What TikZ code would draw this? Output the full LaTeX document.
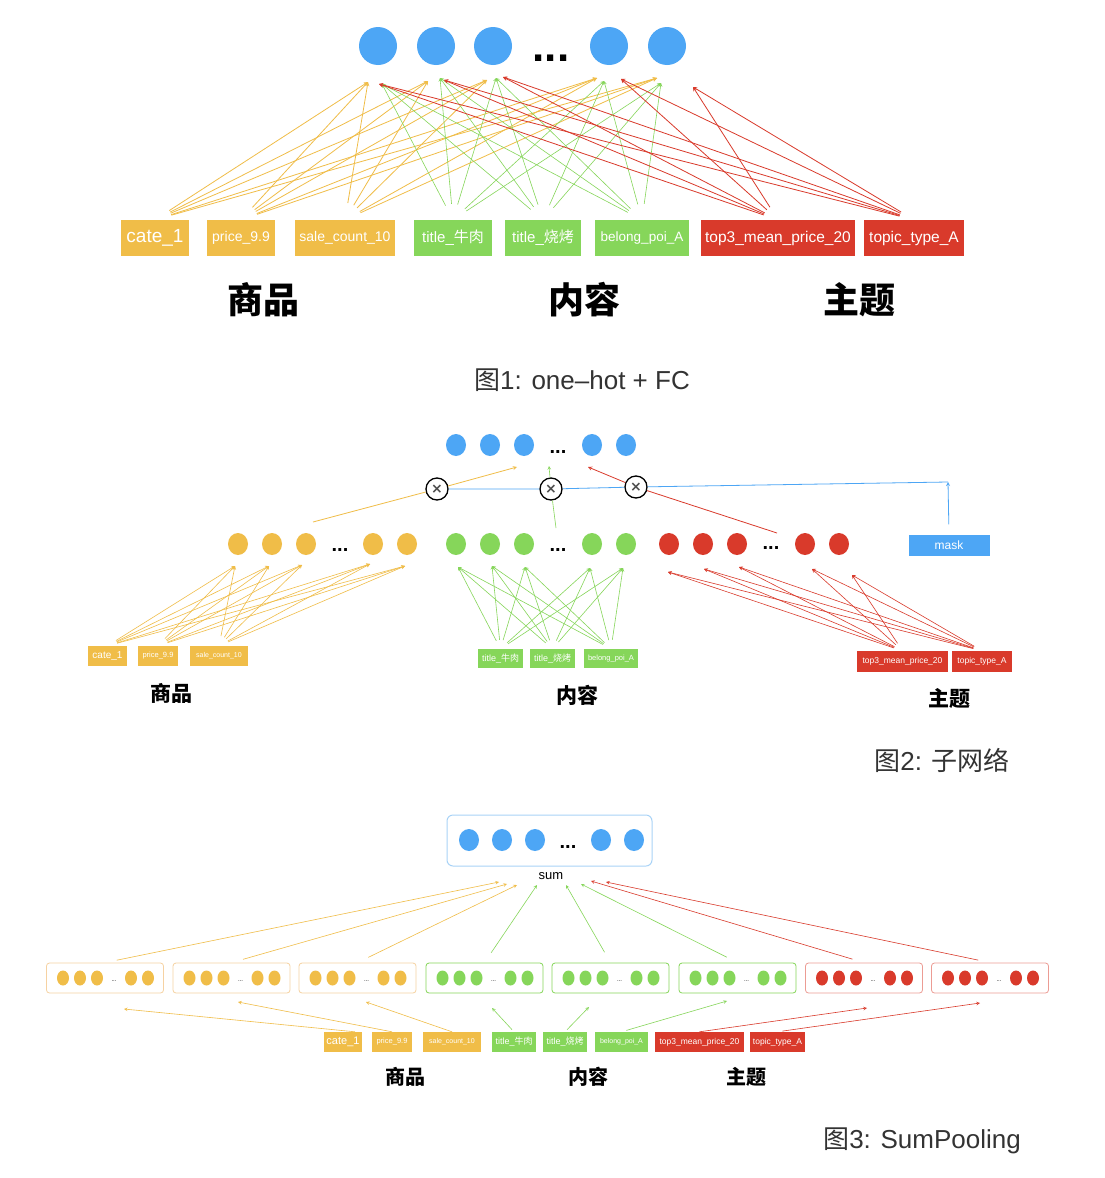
\documentclass[tikz,border=0pt]{standalone}
\usepackage{fontspec}
\setmainfont{Liberation Sans}
\newfontfamily\cjk{Noto Sans CJK SC}
\newfontfamily\sym{DejaVu Sans}
\usetikzlibrary{shapes.geometric}
\definecolor{fblue}{HTML}{4DA6F5}
\definecolor{lblue}{HTML}{A9D3F7}
\definecolor{forange}{HTML}{F0BD48}
\definecolor{lorange}{HTML}{F6D2A2}
\definecolor{fgreen}{HTML}{86D65A}
\definecolor{fred}{HTML}{D93A2B}
\definecolor{lred}{HTML}{EC9C94}

\begin{document}
\begin{tikzpicture}[x=1pt, y=-1pt,
    dot/.style={ellipse, fill=#1, inner sep=0pt},
    bigdot/.style={dot=#1, minimum width=38pt, minimum height=38pt},
    middot/.style={dot=#1, minimum width=20pt, minimum height=22pt},
    smalldot/.style={dot=#1, minimum width=12pt, minimum height=15pt},
    feat/.style={rectangle, fill=#1, text=white, inner sep=0pt, font=\fontsize{15}{15}\selectfont},
    grp/.style={font={\cjk\bfseries\fontsize{#1}{#1}\selectfont}},
    caption/.style={font=\fontsize{26}{26}\selectfont, text=black!80},
    more/.style={font={\bfseries\fontsize{#1}{#1}\selectfont}},
    edge/.style={->, >=stealth, #1, line width=0.8pt},
    mul/.style={circle, draw=black, line width=1.3pt, fill=white, minimum size=22pt, inner sep=0pt, text=black!70, font={\sym\bfseries\fontsize{14}{14}\selectfont}},
    slot/.style={rectangle, draw=#1, line width=0.8pt, rounded corners=3pt, minimum width=117pt, minimum height=30pt, inner sep=0pt}
]
\fill[white] (0,0) rectangle (1105,1178);
\useasboundingbox (0,0) rectangle (1105,1178);

% ---------- Fig 1: one-hot + FC ----------
\node[bigdot=fblue] (a1) at (378,46) {};
\node[bigdot=fblue] (a2) at (436,46) {};
\node[bigdot=fblue] (a3) at (493,46) {};
\node[more=44] (adots) at (551,58) {...};
\node[bigdot=fblue] (a4) at (609,46) {};
\node[bigdot=fblue] (a5) at (667,46) {};

\node[feat=forange, minimum width=68pt, minimum height=36pt, font=\fontsize{19}{19}\selectfont] (cateA) at (155,238) {cate\_1};
\node[feat=forange, minimum width=68pt, minimum height=36pt, font=\fontsize{14}{14}\selectfont] (priceA) at (241,238) {price\_9.9};
\node[feat=forange, minimum width=100pt, minimum height=36pt, font=\fontsize{14}{14}\selectfont] (saleA) at (345,238) {sale\_count\_10};
\node[feat=fgreen, minimum width=78pt, minimum height=36pt] (niuA) at (453,238) {title\_{\cjk 牛肉}};
\node[feat=fgreen, minimum width=76pt, minimum height=36pt] (shaoA) at (543,238) {title\_{\cjk 烧烤}};
\node[feat=fgreen, minimum width=94pt, minimum height=36pt, font=\fontsize{13.5}{13.5}\selectfont] (poiA) at (642,238) {belong\_poi\_A};
\node[feat=fred, minimum width=154pt, minimum height=36pt, font=\fontsize{15.5}{15.5}\selectfont] (top3A) at (778,238) {top3\_mean\_price\_20};
\node[feat=fred, minimum width=100pt, minimum height=36pt, font=\fontsize{15.5}{15.5}\selectfont] (topicA) at (914,238) {topic\_type\_A};

\node[grp=36] (goodsA) at (263,300) {商品};
\node[grp=36] (contA) at (584,300) {内容};
\node[grp=36] (themeA) at (859,300) {主题};
\node[caption] (capA) at (582,380) {{\cjk 图}1: one–hot + FC};

% arrow ends below the top layer
\coordinate (oa1) at (368,82); \coordinate (oa2) at (428,81); \coordinate (oa3) at (487,80);
\coordinate (oa4) at (597,78); \coordinate (oa5) at (657,78);
\coordinate (ga1) at (382,84); \coordinate (ga2) at (440,78); \coordinate (ga3) at (496,78);
\coordinate (ga4) at (604,81); \coordinate (ga5) at (661,83);
\coordinate (ra1) at (379,84); \coordinate (ra2) at (444,80); \coordinate (ra3) at (503,77);
\coordinate (ra4) at (621,79); \coordinate (ra5) at (693,87);

\foreach \s in {cateA,priceA,saleA}
  \foreach \t in {1,...,5}
    \draw[edge=forange, shorten <=17pt] (\s.north) -- (oa\t);
\foreach \s in {niuA,shaoA,poiA}
  \foreach \t in {1,...,5}
    \draw[edge=fgreen, line width=0.6pt, shorten <=16pt] (\s.north) -- (ga\t);
\foreach \s in {top3A,topicA}
  \foreach \t in {1,...,5}
    \draw[edge=fred, shorten <=15pt] (\s.north) -- (ra\t);

% ---------- Fig 2: sub-networks ----------
\node[middot=fblue] (b1) at (456,445) {};
\node[middot=fblue] (b2) at (490,445) {};
\node[middot=fblue] (b3) at (524,445) {};
\node[more=20] (bdots) at (558,452) {...};
\node[middot=fblue] (b4) at (592,445) {};
\node[middot=fblue] (b5) at (626,445) {};

\node[mul] (x1) at (437,489) {×};
\node[mul] (x2) at (551,489) {×};
\node[mul] (x3) at (636,487) {×};

\node[middot=forange] (ob1n) at (238,544) {};
\node[middot=forange] (ob2n) at (272,544) {};
\node[middot=forange] (ob3n) at (306,544) {};
\node[more=20] (odots) at (340,550) {...};
\node[middot=forange] (ob4n) at (373,544) {};
\node[middot=forange] (ob5n) at (407,544) {};

\node[middot=fgreen] (gb1n) at (456,544) {};
\node[middot=fgreen] (gb2n) at (490,544) {};
\node[middot=fgreen] (gb3n) at (524,544) {};
\node[more=20] (gdots) at (558,550) {...};
\node[middot=fgreen] (gb4n) at (592,544) {};
\node[middot=fgreen] (gb5n) at (626,544) {};

\node[middot=fred] (rb1n) at (669,544) {};
\node[middot=fred] (rb2n) at (703,544) {};
\node[middot=fred] (rb3n) at (737,544) {};
\node[more=20] (rdots) at (771,548) {...};
\node[middot=fred] (rb4n) at (805,544) {};
\node[middot=fred] (rb5n) at (839,544) {};

\node[feat=fblue, minimum width=81pt, minimum height=21pt, font=\fontsize{12}{12}\selectfont] (mask) at (949,545) {mask};

\node[feat=forange, minimum width=39pt, minimum height=20pt, font=\fontsize{10}{10}\selectfont] (cateB) at (107.5,656) {cate\_1};
\node[feat=forange, minimum width=40pt, minimum height=20pt, font=\fontsize{7.5}{7.5}\selectfont] (priceB) at (158,656) {price\_9.9};
\node[feat=forange, minimum width=58pt, minimum height=20pt, font=\fontsize{7}{7}\selectfont] (saleB) at (219,656) {sale\_count\_10};
\node[feat=fgreen, minimum width=45pt, minimum height=19pt, font=\fontsize{9}{9}\selectfont] (niuB) at (500.5,658.5) {title\_{\cjk 牛肉}};
\node[feat=fgreen, minimum width=45pt, minimum height=19pt, font=\fontsize{9}{9}\selectfont] (shaoB) at (552.5,658.5) {title\_{\cjk 烧烤}};
\node[feat=fgreen, minimum width=54pt, minimum height=19pt, font=\fontsize{7.5}{7.5}\selectfont] (poiB) at (611,658.5) {belong\_poi\_A};
\node[feat=fred, minimum width=91pt, minimum height=21pt, font=\fontsize{8.5}{8.5}\selectfont] (top3B) at (902.5,661.5) {top3\_mean\_price\_20};
\node[feat=fred, minimum width=60pt, minimum height=21pt, font=\fontsize{8.5}{8.5}\selectfont] (topicB) at (982,661.5) {topic\_type\_A};

\node[grp=21] (goodsB) at (171,693) {商品};
\node[grp=21] (contB) at (577,695) {内容};
\node[grp=21] (themeB) at (949,698) {主题};
\node[caption] (capB) at (942,760) {{\cjk 图}2: {\cjk 子网络}};

% gates
\coordinate (mtop) at (948,482);
\draw[edge=fblue, shorten <=10pt] (mask.north) -- (mtop);
\draw[fblue, line width=0.8pt] (mtop) -- (x3) -- (x2) -- (x1);
\coordinate (oin) at (313,522); \coordinate (oout) at (517,467);
\coordinate (gin) at (556,528); \coordinate (gout) at (549,466);
\coordinate (rin) at (777,533); \coordinate (rout) at (588,467);
\draw[edge=forange] (oin) -- (x1) -- (oout);
\draw[edge=fgreen, line width=0.6pt] (gin) -- (x2) -- (gout);
\draw[edge=fred] (rin) -- (x3) -- (rout);

\coordinate (ob1) at (235,566); \coordinate (ob2) at (269,566); \coordinate (ob3) at (302,565);
\coordinate (ob4) at (370,564); \coordinate (ob5) at (405,566);
\coordinate (gb1) at (458,567); \coordinate (gb2) at (492,566); \coordinate (gb3) at (525,567);
\coordinate (gb4) at (590,568); \coordinate (gb5) at (623,568);
\coordinate (rb1) at (668,572); \coordinate (rb2) at (704,569); \coordinate (rb3) at (739,567);
\coordinate (rb4) at (812,569); \coordinate (rb5) at (852,575);

\foreach \s in {cateB,priceB,saleB}
  \foreach \t in {1,...,5}
    \draw[edge=forange, line width=0.6pt, shorten <=10pt] (\s.north) -- (ob\t);
\foreach \s in {niuB,shaoB,poiB}
  \foreach \t in {1,...,5}
    \draw[edge=fgreen, line width=0.6pt, shorten <=9pt] (\s.north) -- (gb\t);
\foreach \s in {top3B,topicB}
  \foreach \t in {1,...,5}
    \draw[edge=fred, line width=0.6pt, shorten <=9pt] (\s.north) -- (rb\t);

% ---------- Fig 3: SumPooling ----------
\node[rectangle, draw=lblue, line width=1pt, rounded corners=6pt, minimum width=205pt, minimum height=51pt] (pool) at (549.5,840.5) {};
\node[middot=fblue] (c1) at (469,840) {};
\node[middot=fblue] (c2) at (502,840) {};
\node[middot=fblue] (c3) at (535,840) {};
\node[more=20] (cdots) at (568,847) {...};
\node[middot=fblue] (c4) at (601,840) {};
\node[middot=fblue] (c5) at (634,840) {};
\node[font=\fontsize{13}{13}\selectfont] (sum) at (551,876) {sum};

\node[slot=lorange] (s1) at (105,978) {};
\node[slot=lorange] (s2) at (231.5,978) {};
\node[slot=lorange] (s3) at (357.5,978) {};
\node[slot=fgreen] (s4) at (484.5,978) {};
\node[slot=fgreen] (s5) at (610.5,978) {};
\node[slot=fgreen] (s6) at (737.5,978) {};
\node[slot=lred] (s7) at (864,978) {};
\node[slot=lred] (s8) at (990,978) {};
\foreach \b/\col in {s1/forange,s2/forange,s3/forange,s4/fgreen,s5/fgreen,s6/fgreen,s7/fred,s8/fred} {
  \foreach \dx in {-42,-25,-8,26,43}
    \node[smalldot=\col] at ([xshift=\dx pt]\b.center) {};
  \node[font=\fontsize{6}{6}\selectfont, inner sep=0pt] at ([xshift=9pt, yshift=-3pt]\b.center) {...};
}

\node[feat=forange, minimum width=38pt, minimum height=20pt, font=\fontsize{11}{11}\selectfont] (cateC) at (343,1042) {cate\_1};
\node[feat=forange, minimum width=40pt, minimum height=20pt, font=\fontsize{7.5}{7.5}\selectfont] (priceC) at (392,1042) {price\_9.9};
\node[feat=forange, minimum width=58pt, minimum height=20pt, font=\fontsize{7}{7}\selectfont] (saleC) at (452,1042) {sale\_count\_10};
\node[feat=fgreen, minimum width=44pt, minimum height=20pt, font=\fontsize{9}{9}\selectfont] (niuC) at (514,1042) {title\_{\cjk 牛肉}};
\node[feat=fgreen, minimum width=44pt, minimum height=20pt, font=\fontsize{9}{9}\selectfont] (shaoC) at (565,1042) {title\_{\cjk 烧烤}};
\node[feat=fgreen, minimum width=53pt, minimum height=20pt, font=\fontsize{7}{7}\selectfont] (poiC) at (621.5,1042) {belong\_poi\_A};
\node[feat=fred, minimum width=89pt, minimum height=20pt, font=\fontsize{8.5}{8.5}\selectfont] (top3C) at (699.5,1042) {top3\_mean\_price\_20};
\node[feat=fred, minimum width=55pt, minimum height=20pt, font=\fontsize{8.5}{8.5}\selectfont] (topicC) at (777.5,1042) {topic\_type\_A};

\node[grp=20] (goodsC) at (405,1077) {商品};
\node[grp=20] (contC) at (588,1077) {内容};
\node[grp=20] (themeC) at (746,1077) {主题};
\node[caption] (capC) at (922,1141) {{\cjk 图}3: SumPooling};

% slots to sum
\coordinate (st1) at (499,882); \coordinate (st2) at (507,884); \coordinate (st3) at (517,885);
\coordinate (st4) at (537,885); \coordinate (st5) at (566,885); \coordinate (st6) at (581,884);
\coordinate (st7) at (591,881); \coordinate (st8) at (606,882);
\foreach \i/\col in {1/forange,2/forange,3/forange,4/fgreen,5/fgreen,6/fgreen,7/fred,8/fred}
  \draw[edge=\col, line width=0.6pt, shorten <=12pt] (s\i.north) -- (st\i);

% features to slots
\coordinate (pt1) at (124,1009); \coordinate (pt2) at (238,1002); \coordinate (pt3) at (366,1002);
\coordinate (pt4) at (492,1008); \coordinate (pt5) at (589,1007); \coordinate (pt6) at (727,1001);
\coordinate (pt7) at (867,1008); \coordinate (pt8) at (980,1003);
\draw[edge=forange, line width=0.6pt] ([xshift=12pt]cateC.north) -- (pt1);
\draw[edge=forange, line width=0.6pt] (priceC.north) -- (pt2);
\draw[edge=forange, line width=0.6pt] (saleC.north) -- (pt3);
\draw[edge=fgreen, line width=0.6pt, shorten <=3pt] (niuC.north) -- (pt4);
\draw[edge=fgreen, line width=0.6pt, shorten <=3pt] (shaoC.north) -- (pt5);
\draw[edge=fgreen, line width=0.6pt, shorten <=5pt] (poiC.north) -- (pt6);
\draw[edge=fred, line width=0.6pt] (top3C.north) -- (pt7);
\draw[edge=fred, line width=0.6pt, shorten <=5pt] (topicC.north) -- (pt8);

\end{tikzpicture}
\end{document}
